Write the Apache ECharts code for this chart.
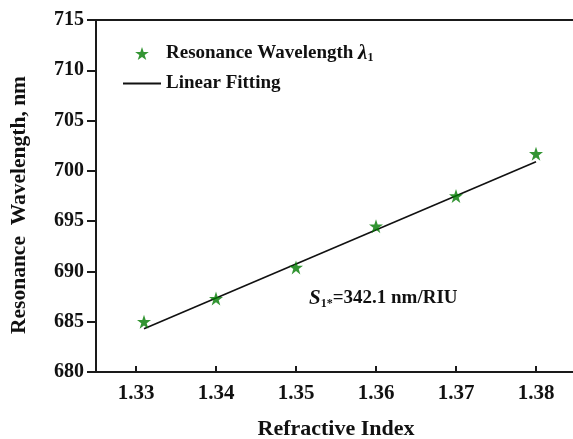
<!DOCTYPE html>
<html>
<head>
<meta charset="utf-8">
<script src="https://cdn.jsdelivr.net/npm/echarts@6/dist/echarts.min.js"></script>
<style>
  html, body { margin: 0; padding: 0; background: #fff; }
  #chart { width: 573px; height: 439px; }
</style>
</head>
<body>
<div id="chart"></div>
<script>
// measured points (refractive index vs resonance wavelength)
const refIndex = [1.331, 1.34, 1.35, 1.36, 1.37, 1.38]
const wavelength = [685.0, 687.3, 690.4, 694.5, 697.5, 701.7]
// linear fitting line end points
const fitX = [1.331, 1.38]
const fitY = [684.3, 700.9]
const xTicks = [1.33, 1.34, 1.35, 1.36, 1.37, 1.38]

const font = '"Liberation Serif", "Times New Roman", serif'
const axisColor = '#1a1a1a'
const starColor = '#007a00'

const myChart = echarts.init(document.getElementById('chart'))
const option = {
  animation: false,
  backgroundColor: '#fff',
  textStyle: { fontFamily: font },
  grid: {
    left: 96,
    top: 20,
    right: -3,
    bottom: 67,
    outerBoundsMode: 'none'
  },
  legend: {
    orient: 'vertical',
    left: 117,
    top: 38,
    itemWidth: 38,
    itemHeight: 13,
    itemGap: 10,
    data: [
      { name: 'wl' },
      { name: 'fit', itemStyle: { opacity: 0 } }
    ],
    textStyle: {
      fontFamily: font,
      fontWeight: 'bold',
      fontSize: 19,
      color: '#111',
      rich: {
        a: { fontFamily: font, fontWeight: 'bold', fontSize: 19, color: '#111' },
        i: { fontFamily: font, fontWeight: 'bold', fontStyle: 'italic', fontSize: 21, color: '#111' },
        s: { fontFamily: font, fontWeight: 'bold', fontSize: 12, color: '#111', verticalAlign: 'bottom', padding: [8, 0, 0, 0] }
      }
    },
    formatter: function (name) {
      if (name === 'wl') return '{a|Resonance Wavelength }{i|λ}{s|1}'
      return '{a|Linear Fitting}'
    }
  },
  xAxis: [
    {
      type: 'value',
      min: 1.325,
      max: 1.385,
      name: 'Refractive Index',
      nameLocation: 'middle',
      nameGap: 46,
      nameTextStyle: { fontFamily: font, fontWeight: 'bold', fontSize: 22, color: '#111' },
      axisLine: { show: true, lineStyle: { color: axisColor, width: 2 } },
      axisTick: { show: true, inside: true, length: 6, customValues: xTicks, lineStyle: { color: axisColor, width: 2 } },
      axisLabel: {
        customValues: xTicks,
        margin: 11,
        fontFamily: font,
        fontWeight: 'bold',
        fontSize: 21,
        color: '#111',
        formatter: function (v) { return v.toFixed(2) }
      },
      splitLine: { show: false }
    },
    {
      type: 'value',
      position: 'top',
      min: 1.325,
      max: 1.385,
      axisLine: { show: true, lineStyle: { color: axisColor, width: 2 } },
      axisTick: { show: false },
      axisLabel: { show: false },
      splitLine: { show: false }
    }
  ],
  yAxis: {
    type: 'value',
    min: 680,
    max: 715,
    interval: 5,
    name: 'Resonance  Wavelength, nm',
    nameLocation: 'middle',
    nameGap: 66,
    nameTextStyle: {
      fontFamily: font,
      fontWeight: 'bold',
      fontSize: 21.5,
      color: '#111',
      padding: [0, 18, 0, 0]
    },
    axisLine: { show: true, lineStyle: { color: axisColor, width: 2 } },
    axisTick: { show: true, inside: false, length: 9, lineStyle: { color: axisColor, width: 2 } },
    axisLabel: {
      margin: 12,
      fontFamily: font,
      fontWeight: 'bold',
      fontSize: 20,
      color: '#111'
    },
    splitLine: { show: false }
  },
  series: [
    {
      name: 'fit',
      type: 'line',
      data: fitX.map(function (x, i) { return [x, fitY[i]] }),
      symbol: 'none',
      lineStyle: { color: '#111', width: 1.6 },
      itemStyle: { color: '#111' },
      z: 2
    },
    {
      name: 'wl',
      type: 'scatter',
      data: refIndex.map(function (x, i) { return [x, wavelength[i]] }),
      symbol: 'path://M50,0 L61.8,35.4 L99,35.4 L69,57.3 L80.4,92.7 L50,70.8 L19.6,92.7 L31,57.3 L1,35.4 L38.2,35.4 Z',
      symbolSize: 14,
      itemStyle: { color: starColor },
      z: 3
    }
  ],
  graphic: [
    {
      type: 'text',
      left: 309,
      top: 288,
      style: {
        text: '{s|S}{sub|1*}{t|=342.1 nm/RIU}',
        rich: {
          s: { fontFamily: font, fontWeight: 'bold', fontStyle: 'italic', fontSize: 21, fill: '#111' },
          sub: { fontFamily: font, fontWeight: 'bold', fontSize: 12, fill: '#111', padding: [10, 0, 0, 0] },
          t: { fontFamily: font, fontWeight: 'bold', fontSize: 19, fill: '#111' }
        }
      }
    }
  ]
}
myChart.setOption(option)
</script>
</body>
</html>
